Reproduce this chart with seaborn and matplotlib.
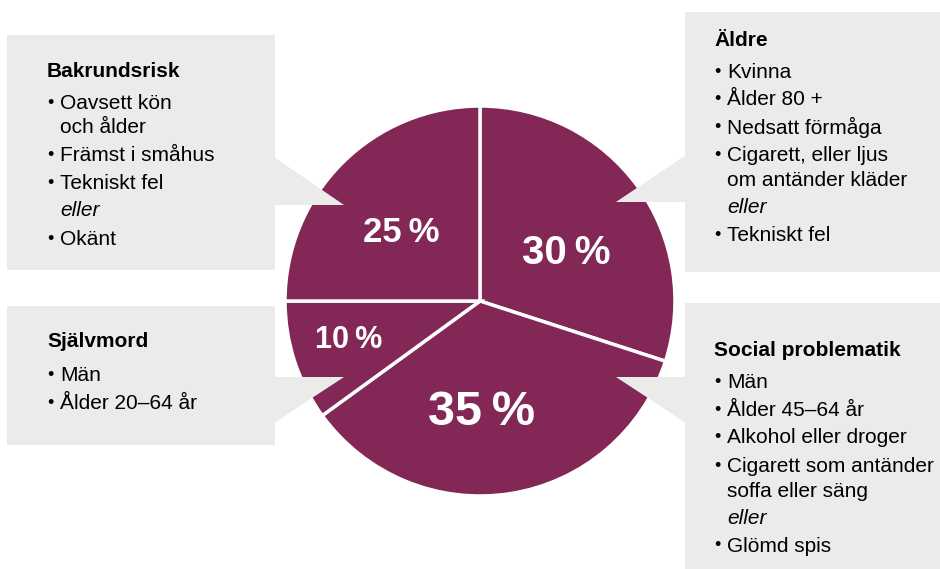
import matplotlib.pyplot as plt
import matplotlib.patches as patches
import seaborn as sns

# pie data
groups = ['Äldre', 'Social problematik', 'Självmord', 'Bakrundsrisk']
shares = [30, 35, 10, 25]
pct_labels = ['30\u2009%', '35\u2009%', '10\u2009%', '25\u2009%']

# callout texts: (text, kind) kind: b = bullet, c = continued line, i = italic line
aldre_title = 'Äldre'
aldre_lines = [('Kvinna', 'b'), ('Ålder 80 +', 'b'), ('Nedsatt förmåga', 'b'),
               ('Cigarett, eller ljus', 'b'), ('om antänder kläder', 'c'),
               ('eller', 'i'), ('Tekniskt fel', 'b')]
social_title = 'Social problematik'
social_lines = [('Män', 'b'), ('Ålder 45–64 år', 'b'), ('Alkohol eller droger', 'b'),
                ('Cigarett som antänder', 'b'), ('soffa eller säng', 'c'),
                ('eller', 'i'), ('Glömd spis', 'b')]
sjalv_title = 'Självmord'
sjalv_lines = [('Män', 'b'), ('Ålder 20–64 år', 'b')]
bak_title = 'Bakrundsrisk'
bak_lines = [('Oavsett kön', 'b'), ('och ålder', 'c'), ('Främst i småhus', 'b'),
             ('Tekniskt fel', 'b'), ('eller', 'i'), ('Okänt', 'b')]

sns.set_style('white')
plt.rcParams['font.family'] = ['Liberation Sans', 'DejaVu Sans']

W, H = 940, 569
fig = plt.figure(figsize=(W / 100, H / 100), dpi=100)
ax = fig.add_axes([0, 0, 1, 1])

maroon = '#822756'
grey = '#EBEBEB'

# pie (y axis is inverted below, so counterclock in data = clockwise on screen)
ax.pie(shares, colors=[maroon] * len(shares), startangle=-90, counterclock=True,
       center=(480, 301), radius=195,
       wedgeprops=dict(edgecolor='white', linewidth=2.5, zorder=2))

# callout boxes
boxes = [(7, 35, 268, 235), (685, 12, 260, 260), (7, 306, 268, 139), (685, 303, 260, 270)]
for x, y, w, h in boxes:
    ax.add_patch(patches.Rectangle((x, y), w, h, facecolor=grey, edgecolor='none', zorder=1))

# pointers drawn over the pie
pointers = [
    [(274, 157), (344, 205), (274, 205)],
    [(686, 155), (616, 202), (686, 202)],
    [(274, 377), (344, 377), (274, 423)],
    [(686, 377), (616, 377), (686, 423)],
]
for pts in pointers:
    ax.add_patch(patches.Polygon(pts, closed=True, facecolor=grey, edgecolor='none', zorder=3))

# percentage labels
pct_pos = [(566, 253, 29), (481, 412, 35), (349, 340, 22), (401, 232, 25)]
for lab, (x, y, fs) in zip(pct_labels, pct_pos):
    ax.text(x, y, lab, color='white', fontsize=fs, fontweight='bold',
            ha='center', va='center', zorder=4)


def callout(x0, title, title_y, lines, ys):
    ax.text(x0, title_y, title, fontsize=15, fontweight='bold', color='black',
            va='center', zorder=4)
    for (txt, kind), y in zip(lines, ys):
        if kind == 'b':
            ax.text(x0, y, '•', fontsize=13, color='black', va='center', zorder=4)
        style = 'italic' if kind == 'i' else 'normal'
        ax.text(x0 + 13, y, txt, fontsize=15, style=style, color='black',
                va='center', zorder=4)


callout(47, bak_title, 71, bak_lines, [103, 127, 155, 183, 210, 239])
callout(714, aldre_title, 40, aldre_lines, [72, 99, 127, 155, 180, 207, 235])
callout(47, sjalv_title, 341, sjalv_lines, [375, 403])
callout(714, social_title, 350, social_lines, [382, 410, 437, 466, 491, 518, 546])

ax.set_xlim(0, W)
ax.set_ylim(H, 0)
ax.set_aspect('equal')
ax.axis('off')

fig.savefig('out.png', dpi=100)
